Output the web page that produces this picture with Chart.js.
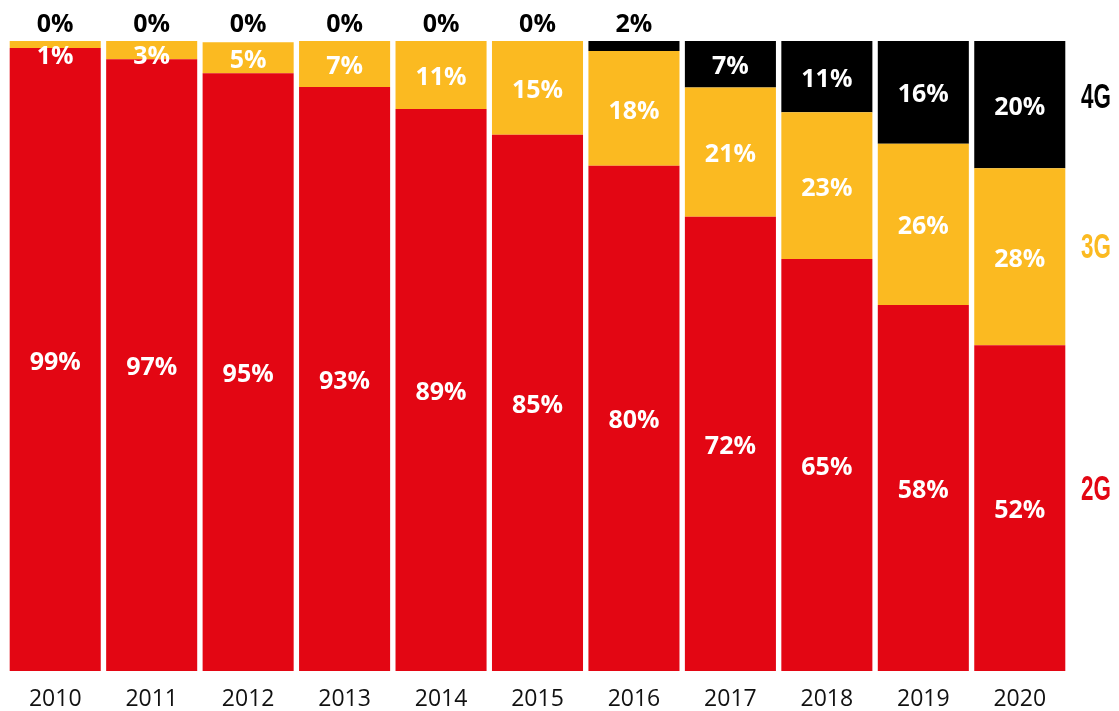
<!DOCTYPE html>
<html>
<head>
<meta charset="utf-8">
<script src="https://cdn.jsdelivr.net/npm/chart.js@4"></script>
<style>
  body { margin: 0; background: #fff; }
  #wrap { width: 1119px; height: 711px; position: relative; }
</style>
</head>
<body>
<div id="wrap"><canvas id="chart"></canvas></div>
<script>
let years = ['2010', '2011', '2012', '2013', '2014', '2015', '2016', '2017', '2018', '2019', '2020'];
let share2G = [98.9, 97.1, 94.9, 92.7, 89.2, 85.1, 80.2, 72.1, 65.4, 58.1, 51.7];
let share3G = [1.1, 2.9, 4.9, 7.3, 10.8, 14.9, 18.2, 20.5, 23.3, 25.6, 28.1];
let share4G = [0, 0, 0, 0, 0, 0, 1.6, 7.4, 11.3, 16.3, 20.2];
let seriesNames = ['2G', '3G', '4G'];
let seriesColors = ['#E30613', '#FBBA21', '#000000'];

// labels inside the bars, small 4G values go above the bar in black
let labelPlugin = {
    id: 'segLabels',
    afterDatasetsDraw(chart) {
        let ctx = chart.ctx;
        let top = chart.chartArea.top;
        ctx.save();
        ctx.font = '700 25px "Open Sans"';
        ctx.textAlign = 'center';
        ctx.textBaseline = 'middle';
        chart.data.datasets.forEach((ds, i) => {
            let meta = chart.getDatasetMeta(i);
            meta.data.forEach((el, j) => {
                let v = ds.data[j];
                let txt = Math.round(v) + '%';
                if (i === 2 && v < 5) {
                    ctx.fillStyle = '#000';
                    ctx.fillText(txt, el.x, top - 16);
                } else if (v > 0) {
                    let y = Math.max((el.y + el.base) / 2 + 3, top + 16);
                    ctx.fillStyle = '#fff';
                    ctx.fillText(txt, el.x, y);
                }
            });
        });

        // series names on the right, condensed look
        let pos = [500, 258, 108];
        ctx.font = 'bold 35px "Liberation Sans"';
        ctx.textAlign = 'left';
        ctx.textBaseline = 'alphabetic';
        seriesNames.forEach((name, i) => {
            ctx.save();
            ctx.translate(1081, pos[i]);
            ctx.scale(0.64, 1);
            ctx.fillStyle = seriesColors[i];
            ctx.fillText(name, 0, 0);
            ctx.restore();
        });
        ctx.restore();
    }
};

new Chart(document.getElementById('chart').getContext('2d'), {
    type: 'bar',
    data: {
        labels: years,
        datasets: [
            { label: seriesNames[0], data: share2G, backgroundColor: seriesColors[0] },
            { label: seriesNames[1], data: share3G, backgroundColor: seriesColors[1] },
            { label: seriesNames[2], data: share4G, backgroundColor: seriesColors[2] }
        ]
    },
    options: {
        responsive: true,
        maintainAspectRatio: false,
        animation: false,
        events: [],
        datasets: {
            bar: { categoryPercentage: 1, barPercentage: 0.944, borderWidth: 0 }
        },
        layout: { padding: { top: 41, left: 7, right: 51, bottom: 0 } },
        plugins: {
            legend: { display: false },
            tooltip: { enabled: false }
        },
        scales: {
            x: {
                stacked: true,
                grid: { display: false, drawTicks: false },
                border: { display: false },
                ticks: {
                    color: '#111',
                    font: { family: 'Open Sans', size: 23, weight: 400 },
                    padding: 15
                },
                afterFit(scale) { scale.height = 40; }
            },
            y: {
                stacked: true,
                display: false,
                min: 0,
                max: 100
            }
        }
    },
    plugins: [labelPlugin]
});
</script>
</body>
</html>
